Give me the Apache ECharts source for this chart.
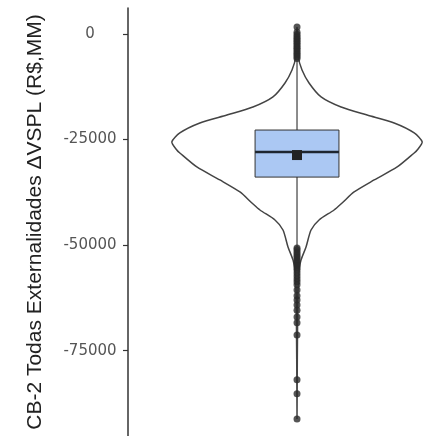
<!DOCTYPE html>
<html><head><meta charset="utf-8">
<script src="https://cdn.jsdelivr.net/npm/echarts@6/dist/echarts.min.js"></script>
<style>html,body{margin:0;padding:0;background:#fff}#c{width:446px;height:436px}</style>
</head><body><div id="c"></div>
<script>
// ---- data ----
const yTitle = 'CB-2 Todas Externalidades ΔVSPL (R$,MM)';
const yTicks = [0, -25000, -50000, -75000];

// box plot statistics (R$, MM)
const boxQ1 = -33890;
const boxMedian = -27960;
const boxQ3 = -22750;
const boxMean = -28670;
const whiskerLow = -50500;
const whiskerHigh = -6000;

// violin: value levels and relative density (half width, max = 1)
const violinLevels = [1650, -2600, -5450, -8520, -11600, -14900, -17300, -19200, -21080, -23440, -25570, -27470, -28180, -31500, -34570, -37410, -40020, -41680, -44040, -46410, -50440, -53520, -55880, -62990, -91200];
const violinDensity = [0, 0.012, 0.01, 0.04, 0.096, 0.192, 0.352, 0.56, 0.776, 0.936, 1.0, 0.96, 0.936, 0.8, 0.616, 0.456, 0.36, 0.296, 0.176, 0.112, 0.072, 0.032, 0.016, 0.006, 0];

// outliers
const upperOutliers = [1650, 400, -100, -600, -1000, -1400, -1800, -2200, -2600, -3000, -3400, -3800, -4200, -4600, -5000, -5400, -5800];
const lowerOutliers = [-50700, -51100, -51600, -52100, -52600, -53000, -53500, -54000, -54500, -54900, -55400, -55900, -56600, -57300, -58000, -58700, -59400, -60600, -62000, -63000, -64200, -65400, -67000, -68400, -71300, -81900, -85200, -91200];

// ---- chart ----
const BOX_HALF = 0.335;
const chart = echarts.init(document.getElementById('c'), null, {renderer: 'canvas'});
chart.setOption({
  animation: false,
  backgroundColor: '#ffffff',
  grid: {left: 128, right: 0, top: 8, bottom: 0, containLabel: false, outerBoundsMode: 'none'},
  xAxis: {type: 'value', min: -1.35, max: 1.19, show: false},
  yAxis: {
    type: 'value', min: -95200, max: 6150,
    axisLine: {show: true, onZero: false, lineStyle: {color: '#333', width: 1.5}},
    axisTick: {show: true, length: 5, customValues: yTicks, lineStyle: {color: '#333', width: 1.2}},
    axisLabel: {customValues: yTicks, formatter: function (v) { return String(v); }, align: 'center', margin: 38, fontSize: 15, fontFamily: 'DejaVu Sans', color: '#555'},
    splitLine: {show: false},
    name: yTitle, nameLocation: 'middle', nameGap: 82,
    nameTextStyle: {fontSize: 21, fontFamily: 'Liberation Sans', color: '#222'}
  },
  series: [
    {
      type: 'custom', z: 1, silent: true,
      data: [[0, 0]],
      renderItem: function (params, api) {
        const left = [], right = [];
        for (let i = 0; i < violinLevels.length; i++) {
          left.push(api.coord([-violinDensity[i], violinLevels[i]]));
          right.push(api.coord([violinDensity[i], violinLevels[i]]));
        }
        const pts = left.concat(right.reverse());
        return {type: 'polygon', shape: {points: pts, smooth: 0.25},
          style: {fill: 'none', stroke: '#444', lineWidth: 1.5}};
      }
    },
    {
      type: 'custom', z: 2, silent: true,
      data: [[boxQ1, boxMedian, boxQ3, boxMean, whiskerLow, whiskerHigh]],
      renderItem: function (params, api) {
        const q1 = api.value(0), med = api.value(1), q3 = api.value(2), mean = api.value(3), wl = api.value(4), wh = api.value(5);
        const wTop = api.coord([0, wh]), wBot = api.coord([0, wl]);
        const bTL = api.coord([-BOX_HALF, q3]), bBR = api.coord([BOX_HALF, q1]);
        const mL = api.coord([-BOX_HALF, med]), mR = api.coord([BOX_HALF, med]);
        const mc = api.coord([0, mean]);
        return {type: 'group', children: [
          {type: 'line', shape: {x1: wTop[0], y1: wTop[1], x2: wBot[0], y2: wBot[1]}, style: {stroke: '#666', lineWidth: 1.5}},
          {type: 'rect', shape: {x: bTL[0], y: bTL[1], width: bBR[0] - bTL[0], height: bBR[1] - bTL[1]}, style: {fill: '#abc8f3', stroke: '#333', lineWidth: 1}},
          {type: 'line', shape: {x1: mL[0], y1: mL[1], x2: mR[0], y2: mR[1]}, style: {stroke: '#1e2630', lineWidth: 2.5}},
          {type: 'rect', shape: {x: mc[0] - 5, y: mc[1] - 5, width: 10, height: 10}, style: {fill: '#222', stroke: null}}
        ]};
      }
    },
    {
      type: 'scatter', z: 3, silent: true,
      symbol: 'circle', symbolSize: 7,
      itemStyle: {color: '#2b2b2b'},
      data: upperOutliers.concat(lowerOutliers).map(v => [0, v])
    }
  ]
});
</script>
</body></html>
